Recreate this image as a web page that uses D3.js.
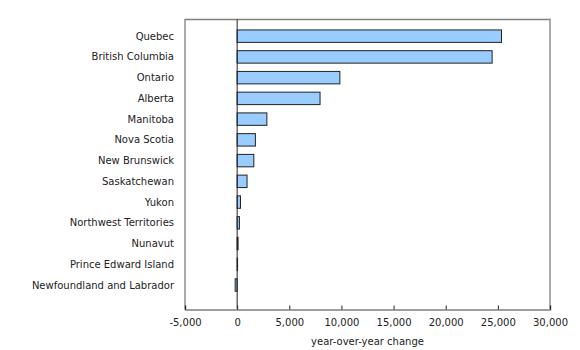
<!DOCTYPE html>
<html>
<head>
<meta charset="utf-8">
<script src="https://cdn.jsdelivr.net/npm/d3@7"></script>
<style>
  html, body { margin: 0; padding: 0; background: #ffffff; }
  svg text { font-family: "DejaVu Sans", Verdana, sans-serif; }
</style>
</head>
<body>
<svg id="chart" width="580" height="350"></svg>
<script>
const categories = [
  "Quebec", "British Columbia", "Ontario", "Alberta", "Manitoba",
  "Nova Scotia", "New Brunswick", "Saskatchewan", "Yukon",
  "Northwest Territories", "Nunavut", "Prince Edward Island",
  "Newfoundland and Labrador"
];
const values = [25350, 24450, 9850, 7950, 2850, 1750, 1600, 950, 320, 220, 90, 40, -190];
const xTicks = [-5000, 0, 5000, 10000, 15000, 20000, 25000, 30000];
const xTitle = "year-over-year change";

(function () {
const svg = d3.select("#chart");
const mLeft = 185, mRight = 550, mTop = 19.5, mBottom = 309.5;

const x = d3.scaleLinear().domain([-5000, 30000]).range([mLeft, mRight]);
const y = d3.scaleBand().domain(categories).range([25.8, 295.4])
  .paddingInner(0.4).paddingOuter(0.2);

// frame (top, right, left)
svg.append("path")
  .attr("d", `M${mLeft},${mBottom} L${mLeft},${mTop} L${mRight},${mTop} L${mRight},${mBottom}`)
  .attr("fill", "none").attr("stroke", "#7f7f7f").attr("stroke-width", 1.3);

// bars
svg.append("g").selectAll("rect").data(categories).join("rect")
  .attr("x", (d, i) => x(Math.min(0, values[i])))
  .attr("y", d => y(d))
  .attr("width", (d, i) => Math.abs(x(values[i]) - x(0)))
  .attr("height", y.bandwidth())
  .attr("fill", "#99ccff")
  .attr("stroke", "#222222")
  .attr("stroke-width", 1);

// zero line
svg.append("line")
  .attr("x1", x(0)).attr("x2", x(0)).attr("y1", mTop).attr("y2", mBottom)
  .attr("stroke", "#222222").attr("stroke-width", 1);

// x axis
const fmt = d3.format(",.0f");
const xAxis = d3.axisBottom(x).tickValues(xTicks)
  .tickSize(-4).tickPadding(9)
  .tickFormat(d => fmt(d).replace("\u2212", "-"));
const gx = svg.append("g").attr("transform", `translate(0,${mBottom})`).call(xAxis);
gx.select(".domain").attr("stroke", "#7f7f7f").attr("stroke-width", 1.6);
gx.selectAll(".tick line").attr("stroke", "#222222");
gx.selectAll(".tick text").attr("font-size", 10).attr("fill", "#222222")
  .attr("font-family", "DejaVu Sans, Verdana, sans-serif");

// category labels
svg.append("g").selectAll("text").data(categories).join("text")
  .attr("x", 174)
  .attr("y", d => y(d) + y.bandwidth() / 2)
  .attr("dy", "0.35em")
  .attr("text-anchor", "end")
  .attr("font-size", 10)
  .attr("fill", "#222222")
  .text(d => d);

// x title
svg.append("text")
  .attr("x", (mLeft + mRight) / 2)
  .attr("y", 345)
  .attr("text-anchor", "middle")
  .attr("font-size", 10)
  .attr("fill", "#222222")
  .text(xTitle);
})();
</script>
</body>
</html>
